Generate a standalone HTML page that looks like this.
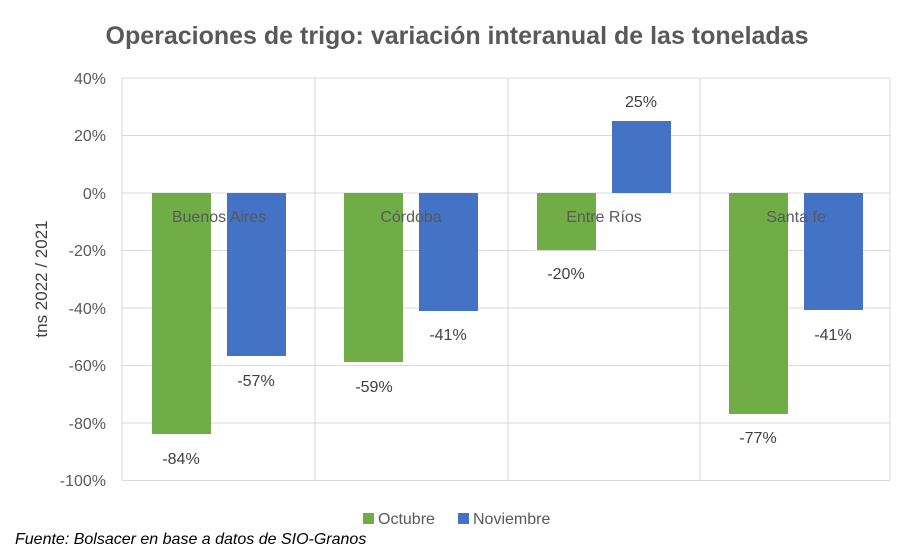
<!DOCTYPE html>
<html><head><meta charset="utf-8"><style>
body{margin:0;background:#fff;}
svg{display:block;font-family:"Liberation Sans",Calibri,sans-serif;}
</style></head><body>
<svg width="915" height="551" viewBox="0 0 915 551" xmlns="http://www.w3.org/2000/svg">
<rect width="915" height="551" fill="#fff"/>
<text x="457" y="44" text-anchor="middle" font-size="25" font-weight="bold" fill="#595959">Operaciones de trigo: variación interanual de las toneladas</text>
<g stroke="#d9d9d9" stroke-width="1">
<line x1="122" y1="78" x2="890" y2="78"/>
<line x1="122" y1="135.5" x2="890" y2="135.5"/>
<line x1="122" y1="193" x2="890" y2="193"/>
<line x1="122" y1="250.5" x2="890" y2="250.5"/>
<line x1="122" y1="308" x2="890" y2="308"/>
<line x1="122" y1="365.5" x2="890" y2="365.5"/>
<line x1="122" y1="423" x2="890" y2="423"/>
<line x1="122" y1="480.5" x2="890" y2="480.5"/>
<line x1="122" y1="78" x2="122" y2="480"/>
<line x1="315" y1="78" x2="315" y2="480"/>
<line x1="508" y1="78" x2="508" y2="480"/>
<line x1="700" y1="78" x2="700" y2="480"/>
<line x1="890" y1="78" x2="890" y2="480"/>
</g>
<g font-size="16" fill="#595959" text-anchor="end">
<text x="106" y="84">40%</text>
<text x="106" y="141">20%</text>
<text x="106" y="199">0%</text>
<text x="106" y="256">-20%</text>
<text x="106" y="314">-40%</text>
<text x="106" y="371">-60%</text>
<text x="106" y="429">-80%</text>
<text x="106" y="486">-100%</text>
</g>
<text transform="translate(47,279) rotate(-90)" text-anchor="middle" font-size="17" fill="#404040">tns 2022 / 2021</text>
<g fill="#70ad47">
<rect x="152" y="193" width="59" height="241"/>
<rect x="344" y="193" width="59" height="169"/>
<rect x="537" y="193" width="59" height="57"/>
<rect x="729" y="193" width="59" height="221"/>
</g>
<g fill="#4472c4">
<rect x="227" y="193" width="59" height="163"/>
<rect x="419" y="193" width="59" height="118"/>
<rect x="612" y="121" width="59" height="72"/>
<rect x="804" y="193" width="59" height="117"/>
</g>
<g font-size="16" fill="#595959" text-anchor="middle">
<text x="219" y="222">Buenos Aires</text>
<text x="411" y="222">Córdoba</text>
<text x="604" y="222">Entre Ríos</text>
<text x="796" y="222">Santa fe</text>
</g>
<g font-size="16" fill="#404040" text-anchor="middle">
<text x="181" y="464">-84%</text>
<text x="256" y="386">-57%</text>
<text x="374" y="392">-59%</text>
<text x="448" y="340">-41%</text>
<text x="566" y="279">-20%</text>
<text x="641" y="107">25%</text>
<text x="758" y="443">-77%</text>
<text x="833" y="340">-41%</text>
</g>
<rect x="363" y="513" width="11" height="11" fill="#70ad47"/>
<text x="378" y="524" font-size="16" fill="#595959">Octubre</text>
<rect x="458" y="513" width="11" height="11" fill="#4472c4"/>
<text x="473" y="524" font-size="16" fill="#595959">Noviembre</text>
<text x="15" y="544" font-size="16" font-style="italic" fill="#000">Fuente: Bolsacer en base a datos de SIO-Granos</text>
</svg>
</body></html>
